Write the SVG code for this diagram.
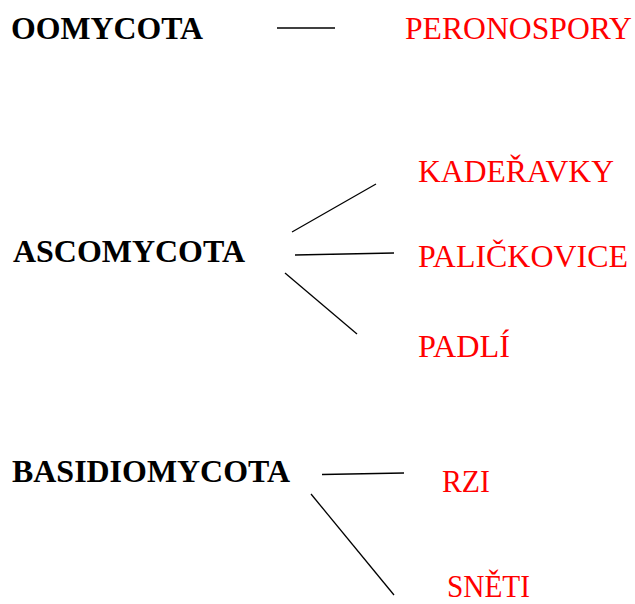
<svg xmlns="http://www.w3.org/2000/svg" width="635" height="604" viewBox="0 0 635 604">
<style>
.grp{font-family:"Liberation Serif","Times New Roman",serif;font-weight:bold;font-size:31px;fill:#000}
.sub{font-family:"Liberation Serif","Times New Roman",serif;font-size:31px;fill:#ff0000}
.ln{stroke:#000;stroke-width:1.3;fill:none}
</style>
<rect width="635" height="604" fill="#fff"/>
<g id="oomycota"><text class="grp" x="11" y="39" textLength="192" lengthAdjust="spacingAndGlyphs">OOMYCOTA</text></g>
<g id="peronospory"><text class="sub" x="405" y="39" textLength="227" lengthAdjust="spacingAndGlyphs">PERONOSPORY</text></g>
<g id="ascomycota"><text class="grp" x="13" y="262" textLength="232" lengthAdjust="spacingAndGlyphs">ASCOMYCOTA</text></g>
<g id="kaderavky"><text class="sub" x="418" y="182" textLength="196" lengthAdjust="spacingAndGlyphs">KADEŘAVKY</text></g>
<g id="palickovice"><text class="sub" x="418" y="267" textLength="210" lengthAdjust="spacingAndGlyphs">PALIČKOVICE</text></g>
<g id="padli"><text class="sub" x="418" y="357" textLength="92" lengthAdjust="spacingAndGlyphs">PADLÍ</text></g>
<g id="basidiomycota"><text class="grp" x="12" y="482" textLength="278" lengthAdjust="spacingAndGlyphs">BASIDIOMYCOTA</text></g>
<g id="rzi"><text class="sub" x="442" y="492" textLength="48" lengthAdjust="spacingAndGlyphs">RZI</text></g>
<g id="sneti"><text class="sub" x="447" y="597" textLength="83" lengthAdjust="spacingAndGlyphs">SNĚTI</text></g>
<g id="connectors">
<line class="ln" x1="277" y1="28" x2="335" y2="28"/>
<line class="ln" x1="292" y1="232" x2="376" y2="184"/>
<line class="ln" x1="295" y1="255" x2="394" y2="253"/>
<line class="ln" x1="285" y1="273" x2="357" y2="334"/>
<line class="ln" x1="322" y1="474.5" x2="404" y2="473"/>
<line class="ln" x1="311" y1="494" x2="394" y2="595"/>
</g>
</svg>
